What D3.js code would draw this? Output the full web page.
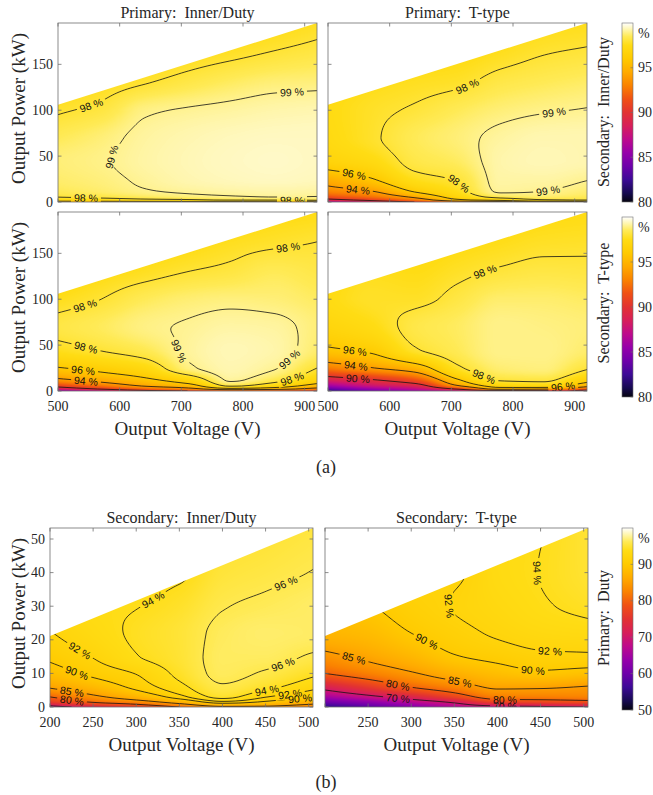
<!DOCTYPE html>
<html>
<head>
<meta charset="utf-8">
<script src="https://cdn.jsdelivr.net/npm/d3@7"></script>
<style>
  html, body { margin: 0; padding: 0; background: #fff; }
  svg text { font-family: "Liberation Serif", "Times New Roman", serif; fill: #262626; }
  svg text.clabel { font-family: "Liberation Sans", Arial, sans-serif; fill: #111; }
</style>
</head>
<body>
<svg id="fig" width="653" height="795" xmlns="http://www.w3.org/2000/svg"></svg>
<script>
// ---- operating grid: output voltage (V) and output power (kW) nodes ----
const voltsA = [500, 570, 640, 710, 780, 850, 920];
const powerA = [0, 2, 6, 12, 25, 45, 70, 100, 130, 160, 200];
const voltsB = [200, 250, 300, 350, 400, 450, 505];
const powerB = [0, 1.5, 3, 6, 10, 15, 22, 30, 40, 55];

// current limit of each converter (kA): usable region is P <= I_max * V
const currentLimitA = 0.212;
const currentLimitB = 0.1055;

// efficiency (%), one row per voltage node, listed along the power nodes
const effPriInnerSecInner = [
  [95.0, 97.0, 98.1, 98.5, 98.7, 98.8, 98.5, 97.9, 97.3, 96.7, 96.0],
  [95.0, 97.2, 98.3, 98.7, 98.85, 98.95, 98.8, 98.2, 97.6, 97.0, 96.3],
  [95.0, 97.5, 98.6, 98.95, 99.1, 99.2, 99.15, 98.9, 97.95, 97.3, 96.6],
  [95.0, 97.7, 98.8, 99.1, 99.3, 99.35, 99.3, 99.05, 98.3, 97.6, 96.8],
  [94.8, 98.0, 98.95, 99.2, 99.4, 99.45, 99.4, 99.15, 98.6, 97.85, 97.0],
  [94.6, 98.0, 99.05, 99.25, 99.45, 99.5, 99.45, 99.25, 98.8, 98.1, 97.3],
  [94.3, 98.3, 99.0, 99.2, 99.4, 99.45, 99.45, 99.3, 98.85, 98.3, 97.6]
];
const effPriTtypeSecInner = [
  [86.0, 89.0, 91.5, 93.2, 94.8, 96.8, 97.3, 97.4, 97.2, 96.9, 96.5],
  [88.0, 90.5, 92.6, 94.0, 95.9, 97.3, 97.85, 97.8, 97.5, 97.1, 96.6],
  [90.0, 92.5, 94.5, 96.2, 97.6, 98.3, 98.5, 98.1, 97.7, 97.3, 96.8],
  [92.0, 95.5, 96.9, 97.6, 98.1, 98.6, 98.8, 98.5, 97.85, 97.4, 96.9],
  [93.0, 96.5, 98.5, 99.1, 99.2, 99.25, 99.15, 98.8, 98.3, 97.7, 97.1],
  [93.5, 97.8, 98.7, 99.0, 99.2, 99.35, 99.3, 98.95, 98.5, 98.0, 97.4],
  [93.5, 98.0, 98.5, 98.75, 99.03, 99.3, 99.3, 99.03, 98.65, 98.15, 97.5]
];
const effPriInnerSecTtype = [
  [85.0, 88.0, 91.0, 93.6, 95.9, 97.65, 98.25, 97.6, 97.0, 96.5, 96.0],
  [87.0, 90.0, 92.7, 94.6, 96.5, 98.05, 98.55, 98.0, 97.4, 96.9, 96.3],
  [89.0, 91.8, 94.3, 95.6, 97.2, 98.45, 98.9, 98.5, 97.7, 97.2, 96.6],
  [90.0, 93.0, 95.3, 96.9, 98.85, 99.1, 99.05, 98.75, 98.0, 97.4, 96.8],
  [91.0, 95.0, 98.3, 99.1, 99.3, 99.35, 99.2, 98.85, 98.2, 97.7, 97.1],
  [91.0, 94.5, 97.2, 98.4, 99.05, 99.25, 99.15, 98.8, 98.5, 97.9, 97.3],
  [90.0, 93.0, 95.3, 96.9, 98.0, 98.7, 98.8, 98.6, 98.3, 98.03, 97.4]
];
const effPriTtypeSecTtype = [
  [82.0, 83.5, 86.0, 88.6, 92.8, 95.8, 96.9, 97.4, 97.2, 96.9, 96.4],
  [84.0, 85.5, 87.8, 89.8, 93.9, 96.3, 97.4, 97.8, 97.6, 97.3, 96.8],
  [85.5, 87.0, 89.0, 91.4, 95.0, 97.9, 98.3, 97.8, 97.5, 97.2, 96.8],
  [87.0, 90.0, 94.0, 95.8, 97.8, 98.5, 98.6, 98.25, 97.8, 97.4, 96.9],
  [88.0, 94.5, 96.9, 98.1, 98.75, 98.95, 98.95, 98.7, 98.1, 97.6, 97.1],
  [88.5, 94.0, 97.2, 98.2, 98.85, 98.95, 98.9, 98.7, 98.25, 97.8, 97.3],
  [88.5, 91.5, 94.8, 96.6, 98.1, 98.7, 98.8, 98.6, 98.2, 97.85, 97.4]
];
const effSecInnerPriDuty = [
  [68.0, 76.0, 80.0, 85.5, 88.6, 90.5, 91.9, 92.8, 93.3, 93.6],
  [72.0, 80.5, 84.0, 88.0, 90.6, 92.1, 93.2, 93.7, 93.9, 94.0],
  [76.0, 83.0, 87.3, 90.7, 92.1, 93.9, 94.3, 93.95, 93.5, 93.2],
  [80.0, 87.0, 91.2, 93.4, 94.5, 95.0, 95.1, 94.6, 93.7, 92.8],
  [84.0, 91.5, 94.6, 95.8, 96.4, 96.5, 96.4, 95.9, 95.2, 94.5],
  [84.0, 89.6, 92.1, 94.6, 95.8, 96.5, 96.7, 96.3, 95.6, 94.8],
  [82.0, 87.0, 90.0, 92.6, 94.4, 95.8, 96.6, 96.6, 96.05, 95.3]
];
const effSecTtypePriDuty = [
  [55.0, 60.0, 65.0, 72.0, 80.0, 84.0, 87.5, 89.0, 90.0, 90.5],
  [58.0, 63.0, 68.5, 76.0, 82.3, 85.8, 88.3, 89.8, 90.7, 91.2],
  [62.0, 67.0, 72.5, 80.2, 84.6, 87.7, 90.0, 91.2, 92.0, 92.5],
  [66.0, 71.0, 77.2, 82.8, 86.9, 89.8, 91.3, 92.1, 91.8, 91.5],
  [68.0, 77.0, 82.0, 85.6, 88.6, 90.7, 92.3, 93.0, 93.4, 93.5],
  [69.0, 77.5, 82.2, 85.5, 89.5, 91.5, 93.0, 93.8, 94.05, 93.9],
  [70.0, 78.5, 82.5, 84.8, 88.9, 91.6, 93.3, 94.4, 94.9, 95.0]
];

// ticks and contour levels
const voltTicksA = [500, 600, 700, 800, 900];
const powerTicksA = [0, 50, 100, 150];
const voltTicksB = [200, 250, 300, 350, 400, 450, 500];
const powerTicksB = [0, 10, 20, 30, 40, 50];
const cbarTicksA = [80, 85, 90, 95];
const cbarTicksB = [50, 60, 70, 80, 90];
const contourLevelsA = [90, 94, 96, 98, 99];
const contourLevelsB = [70, 80, 85, 90, 92, 94, 96];

// colour map (black - indigo - magenta - red - orange - yellow - white)
const cmapPos = [0, 0.05, 0.125, 0.2, 0.275, 0.35, 0.425, 0.5, 0.575, 0.65, 0.725, 0.8, 0.875, 0.925, 0.96, 1];
const cmapCol = ["#05040f", "#160a50", "#3c0a96", "#6e00aa", "#9600aa", "#be0a8c", "#d71e5a", "#e23232",
                 "#f05014", "#fa8200", "#ffaa00", "#ffca00", "#ffdc14", "#ffea55", "#fff5a5", "#ffffff"];

const svg = d3.select("#fig");
const defs = svg.append("defs");

// monotone piecewise-cubic (Fritsch-Carlson) through the nodes
function pchip(xs, ys) {
  const n = xs.length, h = [], d = [], m = [];
  for (let i = 0; i < n - 1; i++) { h.push(xs[i + 1] - xs[i]); d.push((ys[i + 1] - ys[i]) / h[i]); }
  m[0] = d[0]; m[n - 1] = d[n - 2];
  for (let i = 1; i < n - 1; i++) {
    if (d[i - 1] * d[i] <= 0) m[i] = 0;
    else {
      const w1 = 2 * h[i] + h[i - 1], w2 = h[i] + 2 * h[i - 1];
      m[i] = (w1 + w2) / (w1 / d[i - 1] + w2 / d[i]);
    }
  }
  return function (x) {
    if (x <= xs[0]) return ys[0];
    if (x >= xs[n - 1]) return ys[n - 1];
    let k = 0; while (x > xs[k + 1]) k++;
    const t = (x - xs[k]) / h[k], t2 = t * t, t3 = t2 * t;
    return (2 * t3 - 3 * t2 + 1) * ys[k] + (t3 - 2 * t2 + t) * h[k] * m[k] +
           (-2 * t3 + 3 * t2) * ys[k + 1] + (t3 - t2) * h[k] * m[k + 1];
  };
}

function makeField(volts, powers, grid) {
  const cols = grid.map(col => pchip(powers, col));
  return { row(p) { return pchip(volts, cols.map(f => f(p))); } };
}

function makeLut(dom) {
  const s = d3.scaleLinear()
    .domain(cmapPos.map(t => dom[0] + t * (dom[1] - dom[0])))
    .range(cmapCol).clamp(true);
  const N = 1000, tab = [];
  for (let k = 0; k <= N; k++) {
    const c = d3.rgb(s(dom[0] + k / N * (dom[1] - dom[0])));
    tab.push([c.r, c.g, c.b]);
  }
  return v => tab[Math.max(0, Math.min(N, Math.round((v - dom[0]) / (dom[1] - dom[0]) * N)))];
}

let uid = 0;
function drawPanel(P) {
  const id = "p" + (uid++);
  const x = d3.scaleLinear().domain(P.xDomain).range([P.x0, P.x0 + P.w]);
  const y = d3.scaleLinear().domain(P.yDomain).range([P.y0 + P.h, P.y0]);
  const field = makeField(P.volts, P.powers, P.grid);
  const lut = makeLut(P.cDomain);
  const vMin = P.xDomain[0], vMax = P.xDomain[1];

  // feasible region (below the current limit)
  const region = [[x(vMin), y(0)], [x(vMin), y(P.imax * vMin)], [x(vMax), y(P.imax * vMax)], [x(vMax), y(0)]];
  defs.append("clipPath").attr("id", id + "clip")
    .append("polygon").attr("points", region.map(p => p.join(",")).join(" "));

  // shaded efficiency map
  const cv = document.createElement("canvas");
  cv.width = P.w; cv.height = P.h;
  const ctx = cv.getContext("2d");
  const img = ctx.createImageData(P.w, P.h);
  for (let j = 0; j < P.h; j++) {
    const row = field.row(y.invert(P.y0 + j + 0.5));
    for (let i = 0; i < P.w; i++) {
      const c = lut(row(x.invert(P.x0 + i + 0.5)));
      const k = (j * P.w + i) * 4;
      img.data[k] = c[0]; img.data[k + 1] = c[1]; img.data[k + 2] = c[2]; img.data[k + 3] = 255;
    }
  }
  ctx.putImageData(img, 0, 0);
  svg.append("image").attr("x", P.x0).attr("y", P.y0).attr("width", P.w).attr("height", P.h)
    .attr("preserveAspectRatio", "none").attr("href", cv.toDataURL())
    .attr("clip-path", `url(#${id}clip)`);

  // iso-efficiency lines
  const nx = P.w + 5, ny = P.h + 5;
  const vals = new Float64Array(nx * ny);
  for (let j = 0; j < ny; j++) {
    const row = field.row(y.invert(P.y0 + j - 2));
    for (let i = 0; i < nx; i++) vals[j * nx + i] = row(x.invert(P.x0 + i - 2));
  }
  const polys = d3.contours().size([nx, ny]).thresholds(P.levels)(vals);
  const ringsByLevel = new Map();
  polys.forEach(mp => {
    const rings = [];
    mp.coordinates.forEach(poly => poly.forEach(ring => {
      rings.push(ring.map(pt => [P.x0 + pt[0] - 2.5, P.y0 + pt[1] - 2.5]));
    }));
    ringsByLevel.set(mp.value, rings);
  });

  const inside = pt => pt[0] > P.x0 + 8 && pt[0] < P.x0 + P.w - 8 && pt[1] < P.y0 + P.h + 1 &&
                       pt[1] > y(P.imax * x.invert(pt[0])) + 5;

  const mask = defs.append("mask").attr("id", id + "mask").attr("maskUnits", "userSpaceOnUse")
    .attr("x", 0).attr("y", 0).attr("width", 653).attr("height", 795);
  mask.append("rect").attr("x", 0).attr("y", 0).attr("width", 653).attr("height", 795).attr("fill", "#fff");

  const outer = svg.append("g").attr("clip-path", `url(#${id}clip)`);
  const lines = outer.append("g").attr("mask", `url(#${id}mask)`);
  ringsByLevel.forEach(rings => {
    rings.forEach(r => {
      lines.append("path")
        .attr("d", "M" + r.map(p => p[0].toFixed(2) + "," + p[1].toFixed(2)).join("L"))
        .attr("fill", "none").attr("stroke", "#141414").attr("stroke-width", 0.8);
    });
  });

  // inline labels
  const labG = outer.append("g");
  P.labels.forEach(L => {
    const rings = ringsByLevel.get(L.lv) || [];
    const ax = x(L.v), ay = y(L.p);
    let best = null, bd = Infinity;
    rings.forEach(r => r.forEach((pt, k) => {
      if (!inside(pt)) return;
      const dd = (pt[0] - ax) ** 2 + (pt[1] - ay) ** 2;
      if (dd < bd) { bd = dd; best = { r, k }; }
    }));
    if (!best) return;
    const { r, k } = best, n = r.length;
    const a = r[(k - 6 + n) % n], b = r[(k + 6) % n];
    let ang = Math.atan2(b[1] - a[1], b[0] - a[0]) * 180 / Math.PI;
    if (ang > 90) ang -= 180;
    if (ang <= -90) ang += 180;
    const px = r[k][0], py = r[k][1];
    const t = labG.append("text").attr("class", "clabel")
      .attr("x", 0).attr("y", 0).attr("text-anchor", "middle").attr("dominant-baseline", "central")
      .attr("font-size", 10.5)
      .attr("transform", `translate(${px},${py}) rotate(${ang})`)
      .text(`${L.lv} %`);
    const len = t.node().getComputedTextLength();
    mask.append("rect").attr("x", -len / 2 - 3).attr("y", -5).attr("width", len + 6).attr("height", 10)
      .attr("fill", "#000").attr("transform", `translate(${px},${py}) rotate(${ang})`);
  });

  // frame and ticks
  const axG = svg.append("g");
  axG.append("rect").attr("x", P.x0).attr("y", P.y0).attr("width", P.w).attr("height", P.h)
    .attr("fill", "none").attr("stroke", "#6f6f6f").attr("stroke-width", 0.8);
  const tl = 3.5;
  P.xTicks.forEach(v => {
    const X = x(v);
    axG.append("line").attr("x1", X).attr("x2", X).attr("y1", P.y0 + P.h).attr("y2", P.y0 + P.h - tl).attr("stroke", "#6f6f6f").attr("stroke-width", 0.8);
    axG.append("line").attr("x1", X).attr("x2", X).attr("y1", P.y0).attr("y2", P.y0 + tl).attr("stroke", "#6f6f6f").attr("stroke-width", 0.8);
    if (P.xLabels && !(P.skipX || []).includes(v))
      axG.append("text").attr("x", X).attr("y", P.y0 + P.h + 15).attr("text-anchor", "middle")
        .attr("dominant-baseline", "central").attr("font-size", 14).text(v);
  });
  P.yTicks.forEach(v => {
    const Y = y(v);
    axG.append("line").attr("x1", P.x0).attr("x2", P.x0 + tl).attr("y1", Y).attr("y2", Y).attr("stroke", "#6f6f6f").attr("stroke-width", 0.8);
    axG.append("line").attr("x1", P.x0 + P.w).attr("x2", P.x0 + P.w - tl).attr("y1", Y).attr("y2", Y).attr("stroke", "#6f6f6f").attr("stroke-width", 0.8);
    if (P.yLabels)
      axG.append("text").attr("x", P.x0 - 5).attr("y", Y).attr("text-anchor", "end")
        .attr("dominant-baseline", "central").attr("font-size", 14).text(v);
  });
  if (P.title)
    svg.append("text").attr("x", P.x0 + P.w / 2).attr("y", P.y0 - 11).attr("text-anchor", "middle")
      .attr("dominant-baseline", "central").attr("font-size", 16).style("white-space", "pre").text(P.title);
  if (P.xTitle)
    svg.append("text").attr("x", P.x0 + P.w / 2).attr("y", P.y0 + P.h + 37).attr("text-anchor", "middle")
      .attr("dominant-baseline", "central").attr("font-size", 19).text(P.xTitle);
  if (P.yTitle)
    svg.append("text").attr("transform", `translate(18,${P.y0 + P.h / 2 - 4}) rotate(-90)`)
      .attr("text-anchor", "middle").attr("dominant-baseline", "central").attr("font-size", 19).text(P.yTitle);
}

function drawColorbar(cb) {
  const id = "cb" + (uid++);
  const s = d3.scaleLinear().domain(cb.domain).range([cb.y0 + cb.h, cb.y0]);
  const g = defs.append("linearGradient").attr("id", id).attr("x1", 0).attr("y1", 1).attr("x2", 0).attr("y2", 0);
  cmapPos.forEach((t, i) => g.append("stop").attr("offset", t).attr("stop-color", cmapCol[i]));
  svg.append("rect").attr("x", cb.x0).attr("y", cb.y0).attr("width", cb.w).attr("height", cb.h)
    .attr("fill", `url(#${id})`).attr("stroke", "#6f6f6f").attr("stroke-width", 0.6);
  cb.ticks.forEach(v => {
    const Y = s(v);
    svg.append("line").attr("x1", cb.x0 + cb.w).attr("x2", cb.x0 + cb.w - 2.5).attr("y1", Y).attr("y2", Y)
      .attr("stroke", "#6f6f6f").attr("stroke-width", 0.6);
    svg.append("text").attr("x", cb.x0 + cb.w + 5).attr("y", Y).attr("dominant-baseline", "central")
      .attr("font-size", 14).text(v);
  });
  svg.append("text").attr("x", cb.x0 + cb.w + 5).attr("y", cb.y0 + 10).attr("dominant-baseline", "central")
    .attr("font-size", 14).text("%");
  svg.append("text").attr("transform", `translate(603,${cb.labelY}) rotate(-90)`)
    .attr("text-anchor", "middle").attr("dominant-baseline", "central").attr("font-size", 16)
    .style("white-space", "pre").text(cb.label);
}

const commonA = { xDomain: [500, 920], yDomain: [0, currentLimitA * 920], volts: voltsA, powers: powerA,
  imax: currentLimitA, cDomain: [80, 100], levels: contourLevelsA, xTicks: voltTicksA, yTicks: powerTicksA, w: 259, h: 179 };
const commonB = { xDomain: [200, 505], yDomain: [0, currentLimitB * 505], volts: voltsB, powers: powerB,
  imax: currentLimitB, cDomain: [50, 100], levels: contourLevelsB, xTicks: voltTicksB, yTicks: powerTicksB, w: 263, h: 179 };

drawPanel(Object.assign({}, commonA, { x0: 58, y0: 23, grid: effPriInnerSecInner, title: "Primary:  Inner/Duty",
  yLabels: true, yTitle: "Output Power (kW)",
  labels: [{lv: 98, v: 555, p: 104}, {lv: 99, v: 880, p: 117}, {lv: 99, v: 582, p: 50}, {lv: 98, v: 545, p: 5}, {lv: 98, v: 880, p: 1}] }));
drawPanel(Object.assign({}, commonA, { x0: 328, y0: 23, grid: effPriTtypeSecInner, title: "Primary:  T-type",
  labels: [{lv: 98, v: 725, p: 128}, {lv: 99, v: 866, p: 97}, {lv: 96, v: 543, p: 31}, {lv: 94, v: 548, p: 14}, {lv: 98, v: 714, p: 21}, {lv: 99, v: 855, p: 17}] }));
drawPanel(Object.assign({}, commonA, { x0: 58, y0: 212, grid: effPriInnerSecTtype,
  xLabels: true, yLabels: true, xTitle: "Output Voltage (V)", yTitle: "Output Power (kW)",
  labels: [{lv: 98, v: 545, p: 91}, {lv: 98, v: 873, p: 157}, {lv: 98, v: 545, p: 47}, {lv: 99, v: 679, p: 39}, {lv: 99, v: 876, p: 34}, {lv: 98, v: 880, p: 12}, {lv: 96, v: 541, p: 24}, {lv: 94, v: 545, p: 12}] }));
drawPanel(Object.assign({}, commonA, { x0: 328, y0: 212, grid: effPriTtypeSecTtype,
  xLabels: true, xTitle: "Output Voltage (V)",
  labels: [{lv: 98, v: 757, p: 127}, {lv: 96, v: 543, p: 43}, {lv: 94, v: 545, p: 27}, {lv: 90, v: 548, p: 14}, {lv: 98, v: 754, p: 17}, {lv: 96, v: 881, p: 10}] }));
drawPanel(Object.assign({}, commonB, { x0: 50, y0: 528, grid: effSecInnerPriDuty, title: "Secondary:  Inner/Duty",
  xLabels: true, yLabels: true, xTitle: "Output Voltage (V)", yTitle: "Output Power (kW)",
  labels: [{lv: 94, v: 320, p: 32}, {lv: 96, v: 475, p: 36}, {lv: 92, v: 237, p: 17.5}, {lv: 90, v: 231, p: 10}, {lv: 96, v: 470, p: 13}, {lv: 94, v: 452, p: 4.5}, {lv: 92, v: 478, p: 4}, {lv: 85, v: 225, p: 4.5}, {lv: 80, v: 225, p: 1.5}, {lv: 90, v: 490, p: 1.5}] }));
drawPanel(Object.assign({}, commonB, { x0: 325, y0: 528, grid: effSecTtypePriDuty, title: "Secondary:  T-type",
  xLabels: true, skipX: [200], xTitle: "Output Voltage (V)",
  labels: [{lv: 94, v: 447, p: 40}, {lv: 92, v: 345, p: 30}, {lv: 92, v: 461, p: 16.4}, {lv: 90, v: 318, p: 19.5}, {lv: 90, v: 441, p: 11}, {lv: 85, v: 233, p: 14}, {lv: 85, v: 357, p: 7.5}, {lv: 80, v: 285, p: 6.5}, {lv: 80, v: 409, p: 2}, {lv: 70, v: 285, p: 2.5}, {lv: 70, v: 409, p: 0.5}] }));

drawColorbar({ x0: 622, y0: 23, w: 11, h: 179, domain: [80, 100], ticks: cbarTicksA, label: "Secondary:  Inner/Duty", labelY: 112 });
drawColorbar({ x0: 622, y0: 217, w: 11, h: 180, domain: [80, 100], ticks: cbarTicksA, label: "Secondary:  T-type", labelY: 303 });
drawColorbar({ x0: 622, y0: 528, w: 11, h: 182, domain: [50, 100], ticks: cbarTicksB, label: "Primary:  Duty", labelY: 618 });

svg.append("text").attr("x", 326).attr("y", 467).attr("text-anchor", "middle").attr("dominant-baseline", "central")
  .attr("font-size", 18).text("(a)");
svg.append("text").attr("x", 326).attr("y", 782).attr("text-anchor", "middle").attr("dominant-baseline", "central")
  .attr("font-size", 18).text("(b)");
</script>
</body>
</html>
